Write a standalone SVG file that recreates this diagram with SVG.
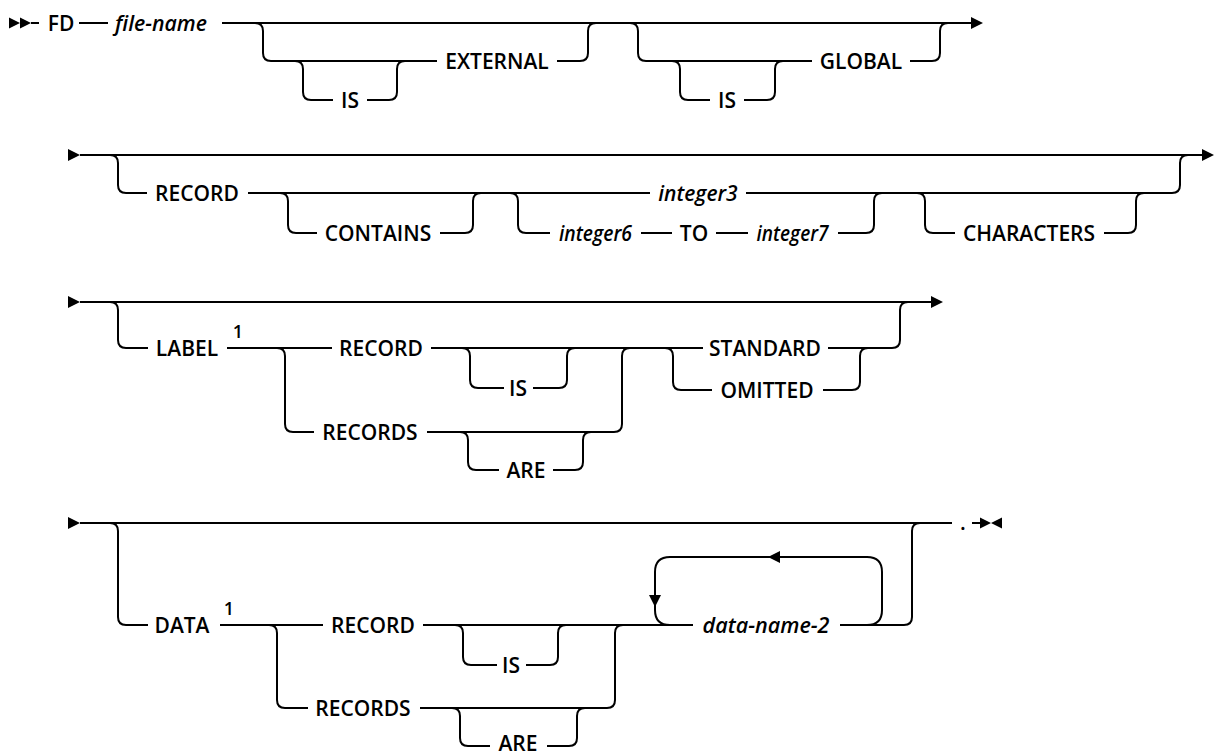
<svg xmlns="http://www.w3.org/2000/svg" width="1214" height="751" viewBox="0 0 1214 751">
<defs>
<style>
.c{fill:none;stroke:#000;stroke-width:2}
.a{fill:#000}
.t{font-family:"Open Sans","Noto Sans","Liberation Sans",sans-serif;font-size:21px;font-weight:600;fill:#000;text-anchor:middle}
.v{font-style:italic}
.s{font-size:18px}
</style>
<path id="ar" d="M0 -6 L12 0 L0 6 Z"/>
</defs>
<rect width="1214" height="751" fill="#fff"/>
<g id="connectors">
<!-- row 1 -->
<use href="#ar" class="a" transform="translate(9,23) scale(0.92)"/>
<use href="#ar" class="a" transform="translate(20,23) scale(0.92)"/>
<path class="c" d="M31 23 H39"/>
<path class="c" d="M79 23 H108"/>
<path class="c" d="M222 23 H972"/>
<use href="#ar" class="a" transform="translate(971,23)"/>
<path class="c" d="M255 23 Q263 23 263 31 V53 Q263 61 271 61 H437"/>
<path class="c" d="M557 61 H580 Q588 61 588 53 V31 Q588 23 596 23"/>
<path class="c" d="M295 61 Q303 61 303 69 V92 Q303 100 311 100 H333"/>
<path class="c" d="M367 100 H389 Q397 100 397 92 V69 Q397 61 405 61"/>
<path class="c" d="M630 23 Q638 23 638 31 V53 Q638 61 646 61 H812"/>
<path class="c" d="M910 61 H932 Q940 61 940 53 V31 Q940 23 948 23"/>
<path class="c" d="M672 61 Q680 61 680 69 V92 Q680 100 688 100 H710"/>
<path class="c" d="M744 100 H767 Q775 100 775 92 V69 Q775 61 783 61"/>
<!-- row 2 -->
<use href="#ar" class="a" transform="translate(68,155)"/>
<path class="c" d="M80 155 H1203"/>
<use href="#ar" class="a" transform="translate(1202,155)"/>
<path class="c" d="M110 155 Q118 155 118 163 V185 Q118 193 126 193 H147"/>
<path class="c" d="M248 193 H650"/>
<path class="c" d="M746 193 H1172 Q1180 193 1180 185 V163 Q1180 155 1188 155"/>
<path class="c" d="M280 193 Q288 193 288 201 V225 Q288 233 296 233 H317"/>
<path class="c" d="M440 233 H465 Q473 233 473 225 V201 Q473 193 481 193"/>
<path class="c" d="M510 193 Q518 193 518 201 V225 Q518 233 526 233 H550"/>
<path class="c" d="M641 233 H672"/>
<path class="c" d="M716 233 H748"/>
<path class="c" d="M838 233 H866 Q874 233 874 225 V201 Q874 193 882 193"/>
<path class="c" d="M917 193 Q925 193 925 201 V225 Q925 233 933 233 H955"/>
<path class="c" d="M1104 233 H1128 Q1136 233 1136 225 V201 Q1136 193 1144 193"/>
<!-- row 3 -->
<use href="#ar" class="a" transform="translate(68,302)"/>
<path class="c" d="M80 302 H932"/>
<use href="#ar" class="a" transform="translate(931,302)"/>
<path class="c" d="M110 302 Q118 302 118 310 V340 Q118 348 126 348 H148"/>
<path class="c" d="M227 348 H332"/>
<path class="c" d="M431 348 H703"/>
<path class="c" d="M828 348 H892 Q900 348 900 340 V310 Q900 302 908 302"/>
<path class="c" d="M277 348 Q285 348 285 356 V424 Q285 432 293 432 H314"/>
<path class="c" d="M427 432 H614 Q622 432 622 424 V356 Q622 348 630 348"/>
<path class="c" d="M462 348 Q470 348 470 356 V380 Q470 388 478 388 H504"/>
<path class="c" d="M533 388 H559 Q567 388 567 380 V356 Q567 348 575 348"/>
<path class="c" d="M460 432 Q468 432 468 440 V462 Q468 470 476 470 H499"/>
<path class="c" d="M553 470 H575 Q583 470 583 462 V440 Q583 432 591 432"/>
<path class="c" d="M665 348 Q673 348 673 356 V382 Q673 390 681 390 H712"/>
<path class="c" d="M823 390 H852 Q860 390 860 382 V356 Q860 348 868 348"/>
<!-- row 4 -->
<use href="#ar" class="a" transform="translate(68,523)"/>
<path class="c" d="M80 523 H952"/>
<path class="c" d="M972 523 H980"/>
<path class="a" d="M980 517.5 L991 523 L980 528.5 Z M1002 517.5 L991 523 L1002 528.5 Z"/>
<path class="c" d="M110 523 Q118 523 118 531 V617 Q118 625 126 625 H148"/>
<path class="c" d="M220 625 H323"/>
<path class="c" d="M423 625 H693"/>
<path class="c" d="M840 625 H904 Q912 625 912 617 V531 Q912 523 920 523"/>
<path class="c" d="M269 625 Q277 625 277 633 V700 Q277 708 285 708 H308"/>
<path class="c" d="M420 708 H607 Q615 708 615 700 V633 Q615 625 623 625"/>
<path class="c" d="M455 625 Q463 625 463 633 V657 Q463 665 471 665 H497"/>
<path class="c" d="M526 665 H550 Q558 665 558 657 V633 Q558 625 566 625"/>
<path class="c" d="M452 708 Q460 708 460 716 V738 Q460 746 468 746 H490"/>
<path class="c" d="M547 746 H569 Q577 746 577 738 V716 Q577 708 585 708"/>
<path class="c" d="M852 625 H867 Q882 625 882 610 V572 Q882 557 867 557 H670 Q655 557 655 572 V610 Q655 625 670 625"/>
<path class="a" d="M768 557 L780 551 L780 563 Z"/>
<path class="a" d="M649 595 L661 595 L655 607 Z"/>
</g>
<g id="n-fd"><text class="t" x="61" y="30.5">FD</text></g>
<g id="n-file-name"><text class="t v" x="161" y="30.5" textLength="92" lengthAdjust="spacingAndGlyphs">file-name</text></g>
<g id="n-is1"><text class="t" x="350" y="107.5">IS</text></g>
<g id="n-external"><text class="t" x="497" y="68.5">EXTERNAL</text></g>
<g id="n-is2"><text class="t" x="727" y="107.5">IS</text></g>
<g id="n-global"><text class="t" x="861" y="68.5">GLOBAL</text></g>
<g id="n-record1"><text class="t" x="197" y="200.5">RECORD</text></g>
<g id="n-contains"><text class="t" x="378" y="240.5">CONTAINS</text></g>
<g id="n-integer3"><text class="t v" x="698" y="200.5">integer3</text></g>
<g id="n-integer6"><text class="t v" x="595.5" y="240.5" textLength="73" lengthAdjust="spacingAndGlyphs">integer6</text></g>
<g id="n-to"><text class="t" x="694" y="240.5">TO</text></g>
<g id="n-integer7"><text class="t v" x="792.5" y="240.5" textLength="72" lengthAdjust="spacingAndGlyphs">integer7</text></g>
<g id="n-characters"><text class="t" x="1029" y="240.5">CHARACTERS</text></g>
<g id="n-label"><text class="t" x="187" y="355.5">LABEL</text><text class="t s" x="238" y="338">1</text></g>
<g id="n-record2"><text class="t" x="381" y="355.5">RECORD</text></g>
<g id="n-is3"><text class="t" x="518" y="395.5">IS</text></g>
<g id="n-records1"><text class="t" x="370" y="439.5">RECORDS</text></g>
<g id="n-are1"><text class="t" x="526" y="477.5">ARE</text></g>
<g id="n-standard"><text class="t" x="765" y="355.5">STANDARD</text></g>
<g id="n-omitted"><text class="t" x="767" y="397.5">OMITTED</text></g>
<g id="n-data"><text class="t" x="182" y="632.5">DATA</text><text class="t s" x="229" y="615">1</text></g>
<g id="n-record3"><text class="t" x="373" y="632.5">RECORD</text></g>
<g id="n-is4"><text class="t" x="511" y="672.5">IS</text></g>
<g id="n-records2"><text class="t" x="363" y="715.5">RECORDS</text></g>
<g id="n-are2"><text class="t" x="518" y="751">ARE</text></g>
<g id="n-data-name-2"><text class="t v" x="766" y="632.5" textLength="127" lengthAdjust="spacingAndGlyphs">data-name-2</text></g>
<g id="n-end"><text class="t" x="963" y="530">.</text></g>
</svg>
